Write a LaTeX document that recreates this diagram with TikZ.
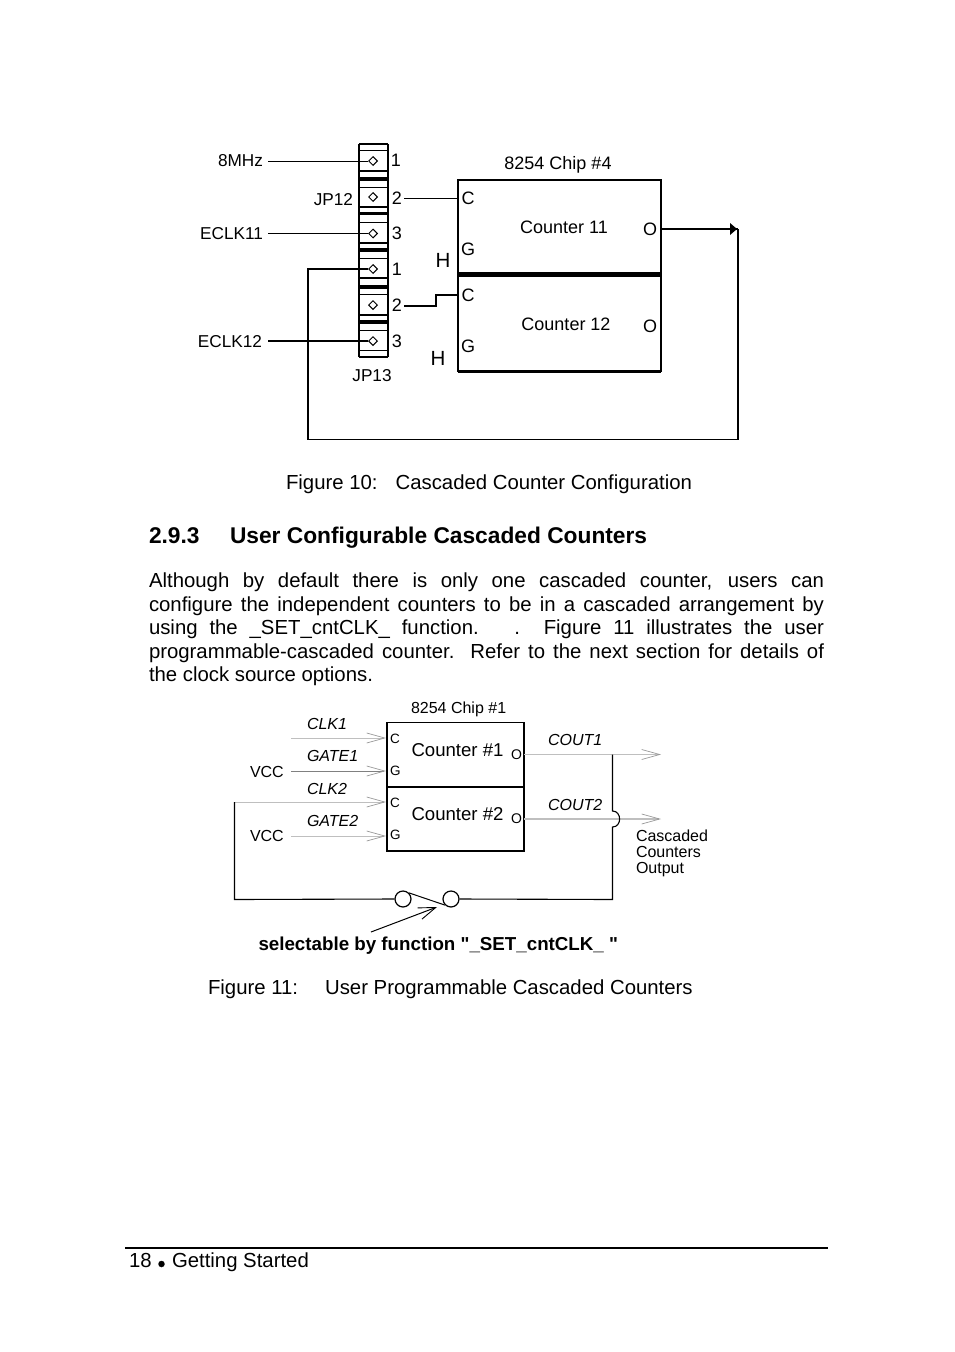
\documentclass[tikz,border=0pt]{standalone}
\usepackage{fontspec}
\setmainfont{Liberation Sans}
\newfontfamily\plainfont{Liberation Sans}
\usetikzlibrary{arrows.meta,shapes.geometric}
\tikzset{
 t/.style={inner sep=0pt,outer sep=0pt,anchor=base west,font=\fontsize{20.35}{23}\selectfont},
 tc/.style={inner sep=0pt,outer sep=0pt,anchor=center,font=\fontsize{#1}{#1}\selectfont},
 tc/.default=18,
 ti/.style={inner sep=0pt,outer sep=0pt,anchor=base west,font=\fontsize{16}{16}\itshape\selectfont},
 ts/.style={inner sep=0pt,outer sep=0pt,anchor=base west,font=\fontsize{16}{16}\selectfont},
 hd/.style={t,font=\fontsize{22.75}{25}\bfseries\selectfont},
 pl/.style={tc=17.2},
 thk/.style={draw=black,line width=2.2pt},
 thn/.style={draw=black,line width=1pt},
 gry/.style={draw=black!25,line width=1pt},
 opn/.style={-{Straight Barb[length=18pt,width=10pt,line width=0.7pt,color=black!40]}},
 pin/.style={draw=black,line width=1pt,diamond,shape aspect=1,minimum size=9pt,inner sep=0pt},
 pad/.style={circle,draw=black,line width=1.2pt,minimum size=16pt,inner sep=0pt}
}
\begin{document}
\begin{tikzpicture}[x=1pt,y=-1pt]
\useasboundingbox (0,0) rectangle (954,1352);
\fill[white] (0,0) rectangle (954,1352);

% --- jumper strip
\draw[thk] (359,144) -- (388,144);
\draw[thk] (359,144) -- (359,357);
\draw[thk] (388,144) -- (388,357);
\foreach \y in {150,187,222,258,294,330,350}{\draw[line width=.8pt] (359,\y)--(388,\y);}
\foreach \y in {171,207,243,278,315}{\draw[line width=2pt] (359,\y)--(388,\y);}
\draw[line width=4.4pt] (359,179)--(388,179);
\foreach \y in {213.5,250,287,322}{\draw[line width=3.4pt] (359,\y)--(388,\y);}
\draw[line width=1.5pt] (359,357)--(388,357);

\foreach \n/\y in {a/161,b/197,c/233.5,d/269,e/305,f/341}{\node[pin] (p\n) at (373,\y) {};}

\node[tc] (n1) at (396,160) {1};
\node[tc] (n2) at (397,198) {2};
\node[tc] (n3) at (397,233) {3};
\node[tc] (n4) at (397,269) {1};
\node[tc] (n5) at (397,305) {2};
\node[tc] (n6) at (397,341) {3};

\node[pl,anchor=east] (l8) at (263,161) {8MHz};
\node[pl,anchor=east] (jp12) at (353,200) {JP12};
\node[pl,anchor=east] (le11) at (263,234) {ECLK11};
\node[pl,anchor=east] (le12) at (262,342) {ECLK12};
\node[pl] (jp13) at (372,376) {JP13};

\coordinate (s8) at (268,161);
\coordinate (s11) at (268,233.5);
\coordinate (s12) at (268,341);
\coordinate (o2a) at (404,198);
\coordinate (o2b) at (404,306);

% --- chip 4
\coordinate (ctl) at (458,180);
\coordinate (ctr) at (661,180);
\coordinate (cml) at (458,274.5);
\coordinate (cmr) at (661,274.5);
\coordinate (cbl) at (458,371.5);
\coordinate (cbr) at (661,371.5);
\draw[line width=1.3pt] (cml)--(ctl)--(ctr)--(cmr);
\draw[line width=1.3pt] (cml)--(cbl);
\draw[line width=1.3pt] (cmr)--(cbr);
\draw[line width=4.4pt] (cml)--(cmr);
\draw[line width=3.6pt] (cbl)--(cbr);
\coordinate (c11c) at (458,198);
\coordinate (c12c) at (458,295);
\coordinate (c11o) at (661,229);
\coordinate (far) at (738,229);
\coordinate (farb) at (738,439.5);
\coordinate (lowl) at (308,439.5);
\coordinate (up) at (308,269);
\coordinate (st) at (436,306);
\coordinate (st2) at (436,295);

\node[tc] (cc) at (468,198) {C};
\node[tc] (cg) at (468,249) {G};
\node[tc] (cc2) at (468,295) {C};
\node[tc] (cg2) at (468,346) {G};
\node[tc] (co) at (650,229) {O};
\node[tc] (co2) at (650,326) {O};
\node[tc=20.5] (h1) at (443,260) {H};
\node[tc=20.5] (h2) at (438,358) {H};
\node[tc] (c11) at (564,227) {Counter 11};
\node[tc] (c12) at (566,324) {Counter 12};
\node[tc] (chip4) at (558,164.5) {8254 Chip \#4};

\draw[thn] (s8)--(pa);
\draw[thn] (s11)--(pc);
\draw[line width=1.4pt] (s12)--(pf);
\draw[thn] (o2a)--(c11c);
\draw[line width=1.5pt] (o2b)--(st)--(st2)--(c12c);
\draw[line width=1.1pt] (pd)--(up)--(lowl)--(farb)--(far);
\draw[line width=1.5pt] (c11o)--(far);
\fill (737,229)--(730,223)--(730,235)--cycle;

% --- captions and body text
\node[t] (f10) at (286,489) {Figure 10:\hspace{18pt}Cascaded Counter Configuration};
\node[hd] (h293) at (149,543) {2.9.3};
\node[hd] (h293b) at (230,543) {User Configurable Cascaded Counters};
\node[t] (b1) at (149,587) {\makebox[675pt][s]{Although by default there is only one cascaded counter, users can}};
\node[t] (b2) at (149,611) {\makebox[675pt][s]{configure the independent counters to be in a cascaded arrangement by}};
\node[t] (b3) at (149,634) {\makebox[675pt][s]{using the \_SET\_cntCLK\_ function.\ \ \ .\ \ Figure 11 illustrates the user}};
\node[t] (b4) at (149,658) {\makebox[675pt][s]{programmable-cascaded counter.\ \ Refer to the next section for details of}};
\node[t] (b5) at (149,681) {the clock source options.};

% --- lower diagram
\node[ts] (chip1) at (411,713) {8254 Chip \#1};
\coordinate (ba) at (387,722.5);
\coordinate (bb) at (524,722.5);
\coordinate (bc) at (387,787);
\coordinate (bd) at (524,787);
\coordinate (be) at (387,851);
\coordinate (bf) at (524,851);
\draw[line width=1.5pt] (ba)--(bb)--(bf)--(be)--cycle;
\draw[line width=1.5pt] (bc)--(bd);

\node[ts,font=\fontsize{13.5}{14}\selectfont] (cc1) at (390,743) {C};
\node[ts,font=\fontsize{13.5}{14}\selectfont] (cg1) at (390,775) {G};
\node[ts,font=\fontsize{13.5}{14}\selectfont] (cc3) at (390,807) {C};
\node[ts,font=\fontsize{13.5}{14}\selectfont] (cg3) at (390,839) {G};
\node[ts,font=\fontsize{14}{14}\selectfont] (o1) at (511,759) {O};
\node[ts,font=\fontsize{14}{14}\selectfont] (o3) at (511,823) {O};
\node[t,font=\fontsize{18.6}{19}\selectfont] (cn1) at (411.5,756) {Counter \#1};
\node[t,font=\fontsize{18.6}{19}\selectfont] (cn2) at (411.5,820) {Counter \#2};

\node[ti] (clk1) at (307,729) {CLK1};
\node[ti] (gate1) at (307,761) {GATE1};
\node[ti] (clk2) at (307,794) {CLK2};
\node[ti] (gate2) at (307,826) {GATE2};
\node[ts] (vcc1) at (250,777) {VCC};
\node[ts] (vcc2) at (250,841) {VCC};
\node[ti] (cout1) at (548,745) {COUT1};
\node[ti] (cout2) at (548,810) {COUT2};
\node[ts] (cas1) at (636,841) {Cascaded};
\node[ts] (cas2) at (636,857) {Counters};
\node[ts] (cas3) at (636,873) {Output};

\coordinate (i1a) at (291,738); \coordinate (i1b) at (386,738);
\coordinate (i2a) at (291,771); \coordinate (i2b) at (386,771);
\coordinate (i3a) at (234.5,802); \coordinate (i3b) at (386,802);
\coordinate (i4a) at (291,836); \coordinate (i4b) at (386,836);
\coordinate (o1a) at (524,754.5); \coordinate (o1b) at (661,754.5);
\coordinate (o2x) at (524,819); \coordinate (o2y) at (661,819);
\draw[gry,opn] (i1a)--(i1b);
\draw[draw=black!50,line width=1pt,opn] (i2a)--(i2b);
\draw[gry,opn] (i3a)--(i3b);
\draw[gry,opn] (i4a)--(i4b);
\draw[gry,opn] (o1a)--(o1b);
\draw[draw=black!25,line width=1.5pt,opn] (o2x)--(o2y);

\node[pad] (sw1) at (403,899) {};
\node[pad] (sw2) at (451,899) {};
\coordinate (j1) at (612.5,754.5);
\coordinate (j2) at (612.5,811);
\coordinate (j3) at (612.5,827);
\coordinate (j4) at (612.5,899.5);
\coordinate (j5) at (234.5,899.5);
\draw[line width=1.1pt] (j1)--(j2) .. controls (622,811) and (622,827) .. (j3)--(j4)--(sw2.east);
\draw[line width=1.1pt] (sw1.west)--(j5)--(i3a);
\draw[line width=1pt] (sw1.north east)--(sw2.south west);
\coordinate (ar) at (371,932);
\coordinate (at) at (437,907);
\draw[line width=1pt,-{Straight Barb[length=17pt,width=12pt,line width=.9pt]}] (ar)--(at);

\node[t,font=\plainfont\fontsize{18.75}{19}\bfseries\selectfont] (sel) at (258.5,950) {selectable by function "\_SET\_cntCLK\_ "};
\node[t] (f11) at (208,994) {Figure 11:\hspace{27pt}User Programmable Cascaded Counters};

% --- footer
\coordinate (fa) at (125,1247.5);
\coordinate (fb) at (828,1247.5);
\draw[line width=2pt] (fa)--(fb);
\node[t] (ft1) at (129,1267) {18};
\node[circle,fill=black,inner sep=0pt,minimum size=6.5pt] (bul) at (161.5,1264) {};
\node[t] (ft2) at (172,1267) {Getting Started};
\end{tikzpicture}
\end{document}
